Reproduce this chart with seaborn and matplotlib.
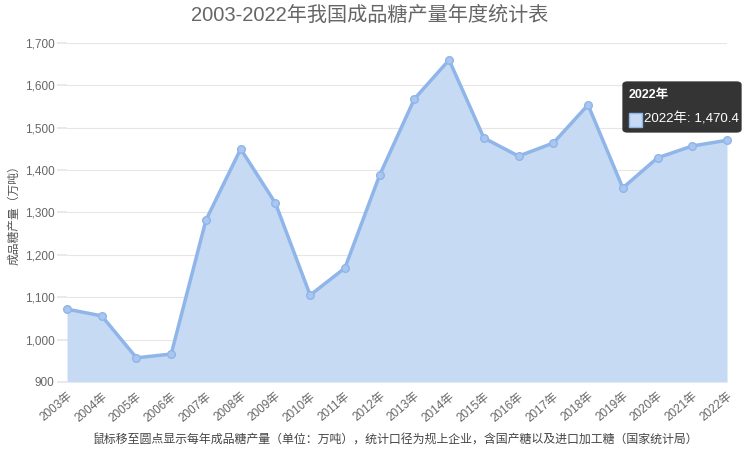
import matplotlib
matplotlib.use("Agg")
import matplotlib.pyplot as plt
import seaborn as sns
import pandas as pd
from matplotlib.patches import FancyBboxPatch, Rectangle

years = [f"{y}年" for y in range(2003, 2023)]
production = [1072, 1056, 957, 966, 1282, 1450, 1322, 1105, 1169, 1388,
              1568, 1660, 1476, 1433, 1464, 1554, 1358, 1429, 1457, 1470.4]
yticks = [900, 1000, 1100, 1200, 1300, 1400, 1500, 1600, 1700]

title = "2003-2022年我国成品糖产量年度统计表"
ylabel = "成品糖产量（万吨）"
caption = "鼠标移至圆点显示每年成品糖产量（单位：万吨），统计口径为规上企业，含国产糖以及进口加工糖（国家统计局）"

sns.set_theme(style="white")
plt.rcParams['font.family'] = ['Liberation Sans', 'Noto Sans CJK SC', 'DejaVu Sans']

df = pd.DataFrame({"idx": range(len(years)), "year": years, "value": production})

fig = plt.figure(figsize=(7.44, 4.53), dpi=100)
ax = fig.add_axes([67/744, 1-382/453, (727-67)/744, (382-43)/453])

line_c = "#8fb5e9"
fill_c = "#c6daf3"
ax.fill_between(df["idx"], df["value"], 900, color=fill_c, lw=0, zorder=2)
sns.lineplot(data=df, x="idx", y="value", ax=ax, color=line_c, lw=2.5,
             marker="o", markersize=5.5, markerfacecolor="#a8c6ef",
             markeredgecolor=line_c, markeredgewidth=1, zorder=3, clip_on=False)

ax.set_xlim(0, len(years)-1)
ax.set_ylim(900, 1700)
ax.set_yticks(yticks)
ax.set_yticklabels([f"{v:,}" for v in yticks], fontsize=8.5, color="#666666")
ax.set_xticks(range(len(years)))
ax.set_xticklabels(years, rotation=40, ha="right", rotation_mode="anchor",
                   fontsize=8.5, color="#666666")
ax.tick_params(axis="x", length=0, pad=6)
ax.tick_params(axis="y", length=7, color="#e6e6e6", pad=2, left=True)
ax.grid(axis="y", color="#e6e6e6", lw=0.8, zorder=0)
for s in ax.spines.values():
    s.set_visible(False)
ax.set_xlabel("")
ax.set_ylabel(ylabel, fontsize=8.5, color="#555555", labelpad=3)

fig.text(370/744, 1-15/453, title, ha="center", va="center", fontsize=14.5, color="#666666")
fig.text(395/744, 1-440/453, caption, ha="center", va="center", fontsize=8.6, color="#444444")

# tooltip
tx0, ty0, tx1, ty1 = 623, 82, 741, 132
box = FancyBboxPatch((tx0/744, 1-ty1/453), (tx1-tx0)/744, (ty1-ty0)/453,
                     boxstyle="round,pad=0,rounding_size=0.006",
                     transform=fig.transFigure, facecolor="#222222", alpha=0.92,
                     edgecolor="#333333", zorder=10)
fig.patches.append(box)
fig.text(629/744, 1-95/453, "2022年", ha="left", va="center", fontsize=9,
         color="white", fontweight="bold", zorder=11)
sq = Rectangle((629/744, 1-127/453), 13/744, 14/453, transform=fig.transFigure,
               facecolor=fill_c, edgecolor=line_c, lw=1, zorder=11)
fig.patches.append(sq)
fig.text(644/744, 1-119/453, "2022年: 1,470.4", ha="left", va="center", fontsize=9.6,
         color="white", zorder=11)

fig.savefig("out.png", dpi=100)
